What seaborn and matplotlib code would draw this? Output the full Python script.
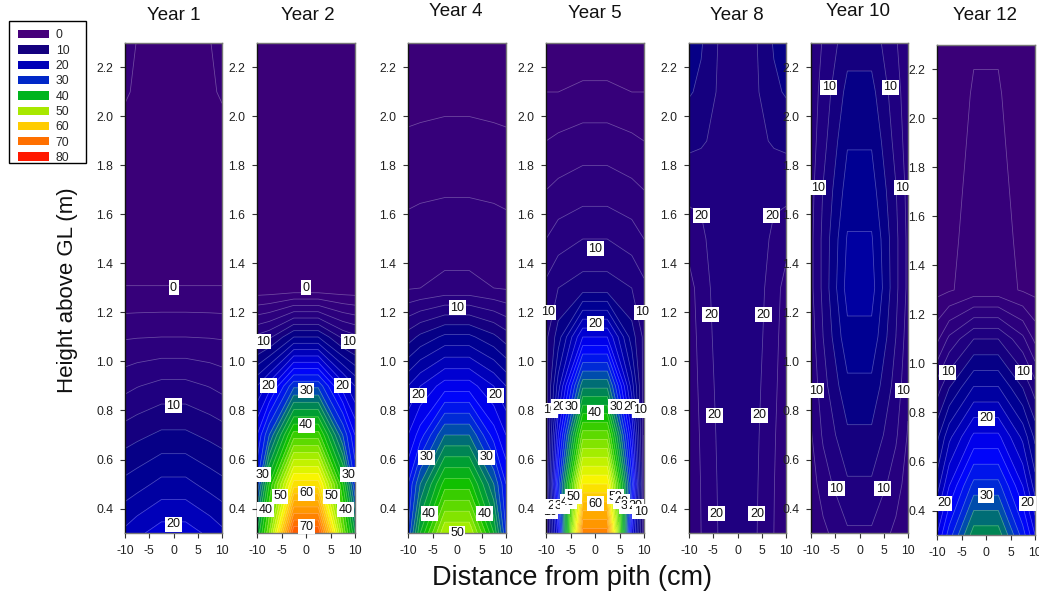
import numpy as np
import matplotlib
matplotlib.use("Agg")
import matplotlib.pyplot as plt
from matplotlib.colors import LinearSegmentedColormap, BoundaryNorm
from matplotlib.patches import Patch, Rectangle
import seaborn as sns

sns.set_theme(style="ticks")
plt.rcParams['font.family'] = ['Liberation Sans', 'DejaVu Sans']

W, H = 1039, 592

heights = [0.3, 0.5, 0.7, 0.9, 1.1, 1.3, 1.5, 1.7, 1.9, 2.1, 2.3]
dist = [-10, -7.5, -2.5, 2.5, 7.5, 10]

y1_edge = [18.5, 14.6, 11, 7.4, 3.8, 0.05, -1, -1, -1, 0.3, 1]
y1_mid = [19.5, 15.2, 11.5, 7.9, 3.9, 0.05, -1, -1, -1, -0.4, -0.1]
y1_ctr = [21, 16.6, 12.4, 8.6, 4, 0.05, -1, -1, -1, -1, -1]

y2_edge = [36, 28, 24, 18, 8.5, -1.5, -1.5, -1.5, -1.5, -1.5, -1.5]
y2_mid = [46, 40, 30, 21, 9.5, -1.5, -1.5, -1.5, -1.5, -1.5, -1.5]
y2_ctr = [72, 57, 43, 29.5, 14, -1.5, -1.5, -1.5, -1.5, -1.5, -1.5]

y4_edge = [28, 26, 22, 18, 11, 3.8, 2.6, 1.6, 0.2, -0.5, -1]
y4_mid = [38, 32, 25, 20, 12.5, 4, 2.8, 1.7, 0.3, -0.5, -1]
y4_ctr = [50, 41, 32, 23, 14.5, 4.5, 3.1, 1.8, 0.5, -0.5, -1]

y5_edge = [8, 8, 8, 9, 9.5, 8.5, 6, 4, 2, 0, -1]
y5_mid = [22, 27, 22, 17, 13, 10, 7, 4.5, 2.4, 0, -1]
y5_ctr = [67, 56, 45, 33.5, 22, 11, 8, 5, 3, 0.3, -1]

y8_edge = [4, 4, 4.2, 4.4, 4.6, 5, 7, 8.5, 10.5, 12.2, 12.8]
y8_mid = [6, 6.1, 6.3, 6.6, 6.9, 7.2, 7.7, 8.3, 10.3, 11.6, 12.2]
y8_ctr = [8.9, 9, 9.1, 9.2, 9.3, 9.3, 9.2, 9.1, 9, 9, 9]

y10_edge = [4.5, 5, 5.8, 6.5, 7, 7.5, 7.5, 7.3, 7, 6.8, 6.5]
y10_mid = [5.5, 7, 8.3, 9.2, 10, 10.5, 10.5, 10.1, 9.3, 8.8, 8.2]
y10_ctr = [7.7, 9.7, 11.6, 13.5, 15.4, 16.8, 16.2, 14.9, 13.8, 12.6, 11.2]

y12_edge = [22, 17, 13.5, 9, 3.5, -0.6, -1, -1.2, -1.5, -2, -2]
y12_mid = [27, 22, 17.5, 12, 6.5, -0.2, -0.43, -0.7, -1.17, -1.85, -2]
y12_ctr = [35.2, 28.8, 22.5, 16.2, 10, 0.8, 0.7, 0.6, 0.5, 0.3, -0.3]

years = ["Year 1", "Year 2", "Year 4", "Year 5", "Year 8", "Year 10", "Year 12"]
profiles = [(y1_edge, y1_mid, y1_ctr), (y2_edge, y2_mid, y2_ctr), (y4_edge, y4_mid, y4_ctr),
            (y5_edge, y5_mid, y5_ctr), (y8_edge, y8_mid, y8_ctr), (y10_edge, y10_mid, y10_ctr),
            (y12_edge, y12_mid, y12_ctr)]

legend_labels = ["0", "10", "20", "30", "40", "50", "60", "70", "80"]
legend_colors = ["#46007a", "#14007f", "#0000b8", "#0028c8", "#00b41e",
                 "#a8e800", "#ffcc00", "#ff7000", "#ff1800"]

# contour label annotations: (text, x, y)
labels = [
    [("0", 0, 1.30), ("10", 0, 0.82), ("20", 0, 0.335)],
    [("0", 0, 1.30), ("10", -8.8, 1.08), ("10", 8.8, 1.08), ("20", -7.7, 0.90), ("20", 7.5, 0.90),
     ("30", 0, 0.88), ("40", 0, 0.74), ("60", 0, 0.463), ("70", 0, 0.325), ("30", -8.8, 0.537),
     ("30", 8.7, 0.537), ("50", -5.3, 0.45), ("50", 5.2, 0.45), ("40", -8.2, 0.394), ("40", 8.1, 0.394)],
    [("10", 0, 1.22), ("20", -7.9, 0.862), ("20", 7.9, 0.862), ("30", -6.3, 0.61), ("30", 6.1, 0.61),
     ("40", -5.7, 0.378), ("40", 5.7, 0.378), ("50", 0, 0.30)],
    [("10", 0, 1.46), ("10", -9.6, 1.2), ("10", 9.7, 1.2), ("20", 0, 1.154),
     ("10", -9.2, 0.80), ("20", -7.3, 0.815), ("30", -4.8, 0.815), ("30", 4.4, 0.815),
     ("20", 7.3, 0.815), ("10", 9.2, 0.80), ("40", 0, 0.79),
     ("10", -9.2, 0.387), ("20", -8.4, 0.41), ("30", -6.8, 0.41), ("40", -5.5, 0.428), ("50", -4.3, 0.448),
     ("50", 4.1, 0.447), ("40", 5.4, 0.428), ("30", 6.7, 0.41), ("20", 8.3, 0.41), ("10", 9.3, 0.387),
     ("60", 0, 0.42)],
    [("20", -7.5, 1.594), ("20", 7.1, 1.594), ("20", -5.5, 1.19), ("20", 5.4, 1.19),
     ("20", -4.8, 0.78), ("20", 4.6, 0.78), ("20", -4.4, 0.378), ("20", 4.0, 0.378)],
    [("10", -6.3, 2.12), ("10", 6.3, 2.12), ("10", -8.6, 1.71), ("10", 8.8, 1.71),
     ("10", -9, 0.88), ("10", 9, 0.88), ("10", -4.8, 0.48), ("10", 4.8, 0.48)],
    [("10", -7.8, 0.965), ("10", 7.6, 0.965), ("20", 0, 0.777), ("30", 0, 0.46),
     ("20", -8.6, 0.43), ("20", 8.4, 0.43)],
]

# layout in pixels
panel_left = [125, 257, 408, 546, 689, 811, 937]
panel_width = [97, 98, 98, 98, 97, 97, 98]
panel_top = [43, 43, 43, 43, 43, 43, 45]
panel_h = 490
title_xy = [(174, 15), (308, 15), (456, 12), (595, 13), (737, 15), (858, 12), (985, 15)]

anchors = [(-2, "#3a0078"), (1, "#33007b"), (5, "#2a007e"), (9, "#1c0080"), (11, "#10007f"),
           (13, "#00008a"), (15, "#000095"), (17, "#0000a8"), (19, "#0000c0"), (21, "#0000d8"),
           (24, "#0000ff"), (28, "#0020e0"), (30, "#0040c0"), (33, "#007070"), (37, "#00a030"),
           (41, "#10c000"), (46, "#70e000"), (50, "#b0f000"), (55, "#f8f800"), (60, "#ffc800"),
           (65, "#ff9c00"), (70, "#ff6c00"), (80, "#ff1000")]
vmin, vmax = -2, 80
cmap = LinearSegmentedColormap.from_list(
    "sigma", [((v - vmin) / (vmax - vmin), c) for v, c in anchors], N=512)
levels = np.arange(-2, 82, 2)
line_levels = np.arange(0, 82, 2)
norm = BoundaryNorm(levels, 512)
sns.set_palette(legend_colors)

fig = plt.figure(figsize=(W / 100, H / 100), dpi=100, facecolor="white")

for i, year in enumerate(years):
    ax = fig.add_axes([panel_left[i] / W, 1 - (panel_top[i] + panel_h) / H,
                       panel_width[i] / W, panel_h / H])
    edge, mid, ctr = [np.array(p, float) for p in profiles[i]]
    Z = np.column_stack([edge, mid, ctr, ctr, mid, edge])
    ax.contourf(dist, heights, Z, levels=levels, cmap=cmap, norm=norm, extend="both")
    ax.contour(dist, heights, Z, levels=line_levels, colors="white", linewidths=0.55, alpha=0.3)
    ax.set_xlim(-10, 10)
    ax.set_ylim(0.3, 2.3)
    ax.set_xticks([-10, -5, 0, 5, 10])
    ax.set_xticklabels(["-10", "-5", "0", "5", "10"])
    ax.set_yticks([0.4, 0.6, 0.8, 1.0, 1.2, 1.4, 1.6, 1.8, 2.0, 2.2])
    ax.tick_params(axis="both", direction="out", length=3.8, width=0.8, color="#333333",
                   labelsize=8.8, labelcolor="#222222", pad=4.5)
    sns.despine(ax=ax, top=False, right=False)
    for name, sp in ax.spines.items():
        sp.set_linewidth(1.0)
        sp.set_color("#111111" if name == "left" else "#777777")
    for txt, lx, ly in labels[i]:
        ax.text(lx, ly, txt, ha="center", va="center", fontsize=9, color="#111111", zorder=10,
                clip_on=False, bbox=dict(boxstyle="square,pad=0.12", fc="white", ec="none"))
    fig.text(title_xy[i][0] / W, 1 - title_xy[i][1] / H, year, ha="center", va="center",
             fontsize=13.5, color="#111111")

fig.text(68 / W, 1 - 290 / H, "Height above GL (m)", rotation=90, ha="center", va="center",
         fontsize=16, color="#111111")
fig.text(572 / W, 1 - 578 / H, "Distance from pith (cm)", ha="center", va="center",
         fontsize=19.5, color="#111111")

fig.add_artist(Rectangle((8.5 / W, 1 - 163 / H), 77 / W, 142 / H, transform=fig.transFigure,
                         facecolor="white", edgecolor="black", linewidth=1.0))
handles = [Patch(facecolor=c, edgecolor="none", label=l) for c, l in zip(legend_colors, legend_labels)]
leg = fig.legend(handles=handles, loc="upper left", bbox_to_anchor=(18 / W, 1 - 29.5 / H),
                 bbox_transform=fig.transFigure, frameon=False, fontsize=8.8, handlelength=2.54,
                 handleheight=0.66, handletextpad=0.55, labelspacing=0.27, borderpad=0,
                 borderaxespad=0)

fig.savefig("out.png", dpi=100)
